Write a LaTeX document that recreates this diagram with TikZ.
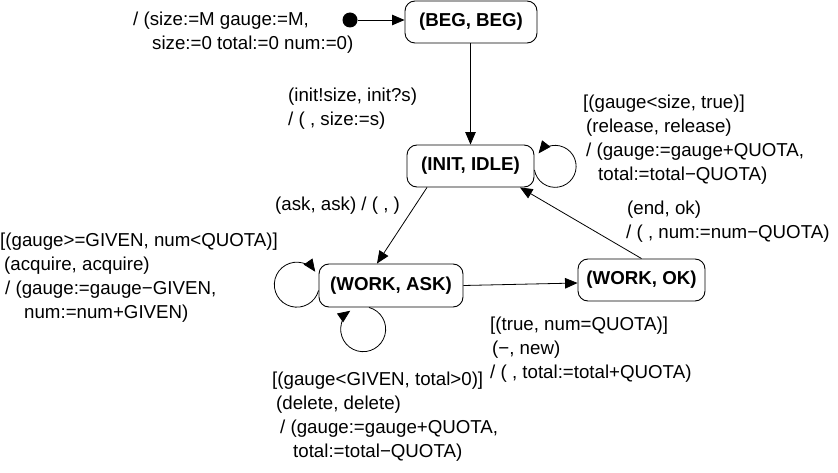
\documentclass[tikz,border=0pt]{standalone}
\usepackage{fontspec}
\setmainfont{Liberation Sans}
\usetikzlibrary{arrows.meta}
\begin{document}
\begin{tikzpicture}[x=1pt,y=1pt,
  state/.style={draw, rounded corners=10pt, line width=0.9pt, inner sep=0pt,
    minimum height=42pt, font=\fontsize{18.7}{22}\selectfont\bfseries},
  lbl/.style={inner sep=0pt, anchor=north west, align=left,
    font=\fontsize{18.7}{24}\selectfont},
  tr/.style={line width=0.8pt, -{Triangle[length=12.5pt,width=10.5pt]}},
]
\useasboundingbox (0,0) rectangle (838,-473);
% states
\node[state, minimum width=132pt] (beg) at (471,-22) {(BEG, BEG)};
\node[state, minimum width=127pt] (init) at (470.5,-166) {(INIT, IDLE)};
\node[state, minimum width=144pt, minimum height=43pt] (wa) at (391,-285.5) {(WORK, ASK)};
\node[state, minimum width=127pt] (wo) at (641.5,-280) {(WORK, OK)};
\node[circle, fill, inner sep=0pt, minimum size=15pt] (start) at (350,-20) {};
% connectors
\draw[tr] (start) -- (beg.west |- start);
\draw[tr] (beg.south -| init.north) -- (init.north);
\draw[tr] ([yshift=-4pt]init.east) arc[start angle=190, end angle=502, radius=21];
\draw[tr] ([xshift=-43.5pt]init.south) -- ([xshift=-14pt]wa.north);
\draw[tr] ([yshift=-5pt]wa.west) arc[start angle=-15, end angle=-325, radius=22.5];
\draw[tr] ([xshift=-22pt]wa.south) arc[start angle=75, end angle=-235, radius=22.5];
\draw[tr] (wa.east) -- ([yshift=-3pt]wo.west);
\draw[tr] (wo.north) -- ([xshift=49.5pt]init.south);
% labels
\node[lbl] (la) at (133,-8.7) {\strut/ (size:=M gauge:=M,\\\hspace*{19pt}size:=0 total:=0 num:=0)};
\node[lbl] (lb) at (288,-84.7) {\strut(init!size, init?s)\\/ ( , size:=s)};
\node[lbl] (lc) at (583,-91.7) {\strut[(gauge<size, true)]\\\hspace*{3pt}(release, release)\\\hspace*{3pt}/ (gauge:=gauge+QUOTA,\\\hspace*{15pt}total:=total−QUOTA)};
\node[lbl] (ld) at (275,-193.7) {\strut(ask, ask) / ( , )};
\node[lbl] (le) at (626,-197.7) {\strut\hspace*{1pt}(end, ok)\\/ ( , num:=num−QUOTA)};
\node[lbl] (lf) at (0,-229.7) {\strut[(gauge>=GIVEN, num<QUOTA)]\\\hspace*{4pt}(acquire, acquire)\\\hspace*{5pt}/ (gauge:=gauge−GIVEN,\\\hspace*{24pt}num:=num+GIVEN)};
\node[lbl] (lg) at (490,-313.7) {\strut[(true, num=QUOTA)]\\\hspace*{2pt}(−, new)\\/ ( , total:=total+QUOTA)};
\node[lbl] (lh) at (272,-368.7) {\strut[(gauge<GIVEN, total>0)]\\\hspace*{4pt}(delete, delete)\\\hspace*{8pt}/ (gauge:=gauge+QUOTA,\\\hspace*{21pt}total:=total−QUOTA)};
\end{tikzpicture}
\end{document}
